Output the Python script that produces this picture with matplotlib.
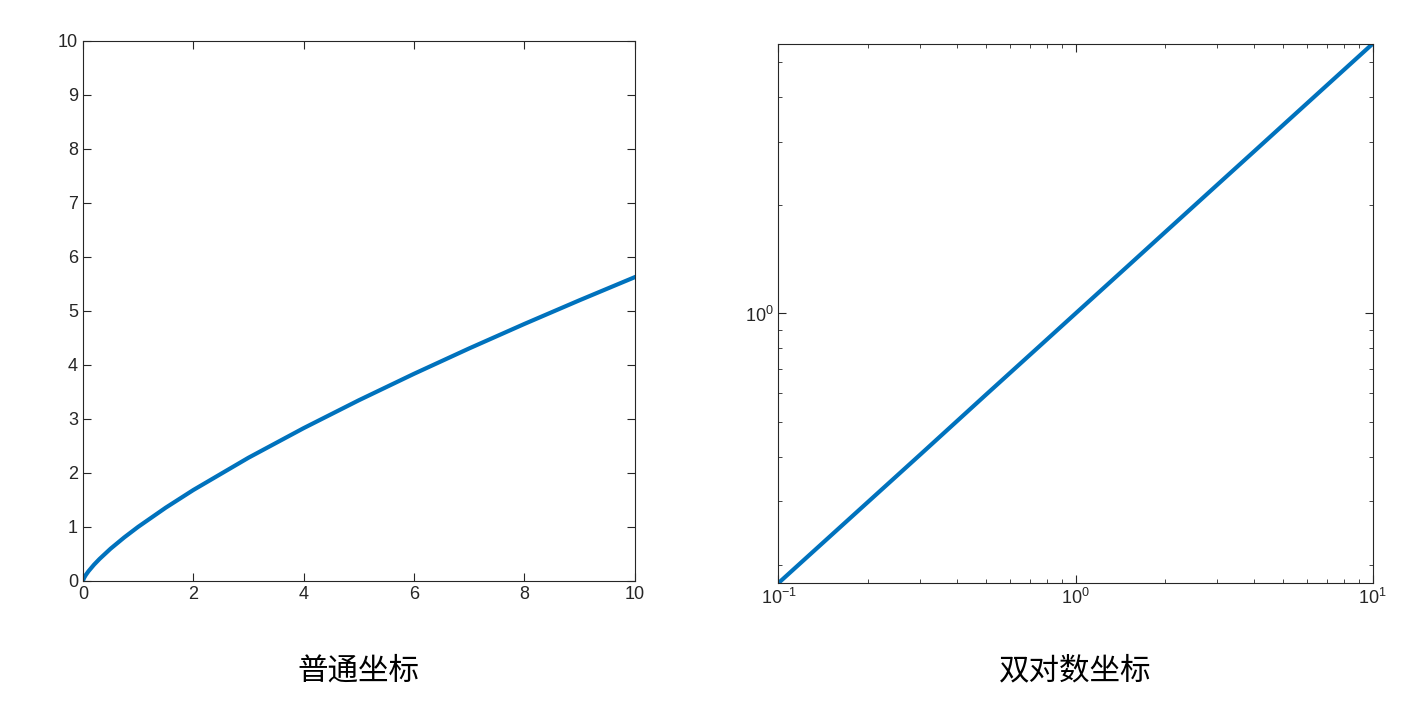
import matplotlib.pyplot as plt
from matplotlib.ticker import LogLocator, NullFormatter

plt.rcParams['font.family'] = ['Liberation Sans', 'DejaVu Sans']

# values
x = [0, 0.02, 0.05, 0.1, 0.2, 0.3, 0.5, 0.75, 1, 1.5, 2, 3, 4, 5, 6, 7, 8, 9, 10]
y = [0, 0.053, 0.106, 0.178, 0.299, 0.405, 0.595, 0.806, 1, 1.355, 1.682,
     2.280, 2.828, 3.344, 3.834, 4.304, 4.757, 5.196, 5.623]
titles = ['普通坐标', '双对数坐标']

blue = '#0072BD'
fig = plt.figure(figsize=(14.18, 7.18), dpi=100)
ax1 = fig.add_axes([0.0585, 0.191, 0.389, 0.752])
ax2 = fig.add_axes([0.549, 0.188, 0.419, 0.751])

ax1.plot(x, y, color=blue, lw=3)
ax1.set_xlim(0, 10)
ax1.set_ylim(0, 10)
ax1.set_xticks(range(0, 11, 2))
ax1.set_yticks(range(0, 11))

ax2.loglog(x[3:], y[3:], color=blue, lw=3)
ax2.set_xlim(0.1, 10)
ax2.set_ylim(y[3], y[-1])
ax2.xaxis.set_major_locator(LogLocator(base=10, numticks=10))
ax2.yaxis.set_major_locator(LogLocator(base=10, numticks=10))
ax2.xaxis.set_minor_formatter(NullFormatter())
ax2.yaxis.set_minor_formatter(NullFormatter())

for ax in (ax1, ax2):
    ax.tick_params(which='both', direction='in', top=True, right=True,
                   labelsize=13, color='#262626', labelcolor='#262626')
    ax.tick_params(which='major', length=6)
    ax.tick_params(which='minor', length=3)
    for s in ax.spines.values():
        s.set_linewidth(0.8)
        s.set_color('#262626')

for ax, t in zip((ax1, ax2), titles):
    pos = ax.get_position()
    fig.text((pos.x0 + pos.x1) / 2, 0.065, t, ha='center', va='center',
             fontsize=22, family=['Noto Sans CJK SC', 'DejaVu Sans'])

fig.savefig('out.png', dpi=100)
